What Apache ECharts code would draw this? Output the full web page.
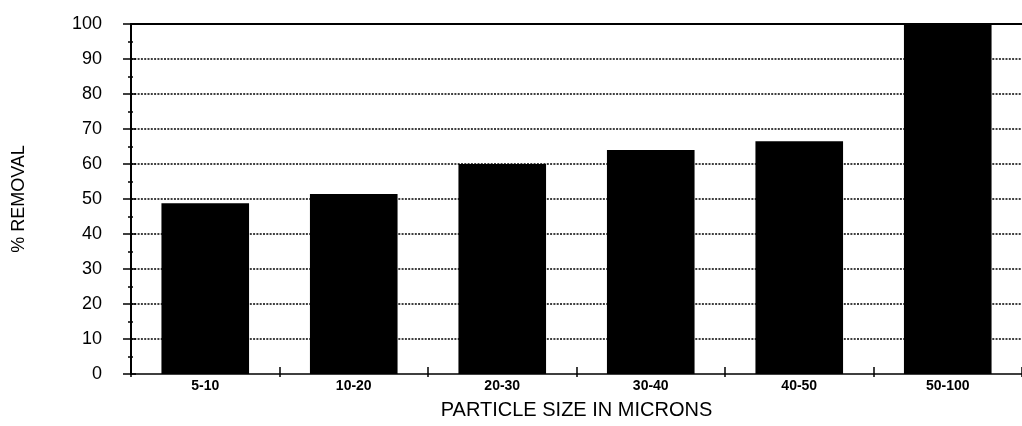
<!DOCTYPE html>
<html>
<head>
<meta charset="utf-8">
<script src="https://cdn.jsdelivr.net/npm/echarts@6/dist/echarts.min.js"></script>
<style>html,body{margin:0;padding:0;background:#fff}#c{width:1022px;height:426px}</style>
</head>
<body>
<div id="c"></div>
<script>
const categories = ['5-10', '10-20', '20-30', '30-40', '40-50', '50-100'];
const removal = [48.8, 51.4, 60, 64, 66.5, 100];
const yTicks = { min: 0, max: 100, interval: 10 };
const xTitle = 'PARTICLE SIZE IN MICRONS';
const yTitle = '% REMOVAL';

const chart = echarts.init(document.getElementById('c'), null, { renderer: 'canvas' });
const font = 'Arial, "Liberation Sans", sans-serif';
chart.setOption({
  backgroundColor: '#ffffff',
  animation: false,
  grid: { left: 131, right: -6, top: 24, bottom: 52, containLabel: false },
  xAxis: [
    {
      type: 'category', data: categories, position: 'bottom',
      boundaryGap: true,
      axisLine: { show: true, onZero: false, lineStyle: { color: '#000', width: 1.5 } },
      axisTick: { show: true, inside: true, length: 7, lineStyle: { color: '#000', width: 1.5 } },
      axisLabel: { color: '#000', fontFamily: font, fontWeight: 'bold', fontSize: 14, margin: 5 },
      splitLine: { show: false },
      name: xTitle, nameLocation: 'middle', nameGap: 26,
      nameTextStyle: { color: '#000', fontFamily: font, fontSize: 20 }
    },
    {
      type: 'category', data: categories, position: 'top',
      axisLine: { show: true, onZero: false, lineStyle: { color: '#000', width: 2 } },
      axisTick: { show: false }, axisLabel: { show: false }, splitLine: { show: false }, z: 10
    },
    {
      type: 'category', data: categories, position: 'bottom',
      axisLine: { show: false, onZero: false },
      axisTick: { show: true, inside: false, length: 3, lineStyle: { color: '#000', width: 1.5 } },
      axisLabel: { show: false }, splitLine: { show: false }
    }
  ],
  yAxis: [
    {
      type: 'value', min: yTicks.min, max: yTicks.max, interval: yTicks.interval, position: 'left',
      axisLine: { show: true, onZero: false, lineStyle: { color: '#000', width: 2 } },
      axisTick: { show: true, inside: false, length: 8, lineStyle: { color: '#000', width: 1.5 } },
      minorTick: { show: true, splitNumber: 2, length: 3, lineStyle: { color: '#000', width: 1.5 } },
      axisLabel: { color: '#000', fontFamily: font, fontSize: 18, margin: 29 },
      splitLine: { show: true, showMinLine: false, showMaxLine: false, lineStyle: { color: '#000', width: 1.6, type: [2, 1.3] } },
      name: yTitle, nameLocation: 'middle', nameGap: 103, nameRotate: 90,
      nameTextStyle: { color: '#000', fontFamily: font, fontSize: 18 }
    },
    {
      type: 'value', min: yTicks.min, max: yTicks.max, interval: yTicks.interval, position: 'left', offset: 0,
      axisLine: { show: false, onZero: false },
      axisTick: { show: true, inside: true, length: 5, lineStyle: { color: '#000', width: 1.5 } },
      minorTick: { show: true, splitNumber: 2, length: 2, lineStyle: { color: '#000', width: 1.5 } },
      axisLabel: { show: false }, splitLine: { show: false }
    }
  ],
  series: [{
    type: 'bar', data: removal, xAxisIndex: 0, yAxisIndex: 0,
    barWidth: '59%', itemStyle: { color: '#000' }, z: 3
  }]
});
</script>
</body>
</html>
